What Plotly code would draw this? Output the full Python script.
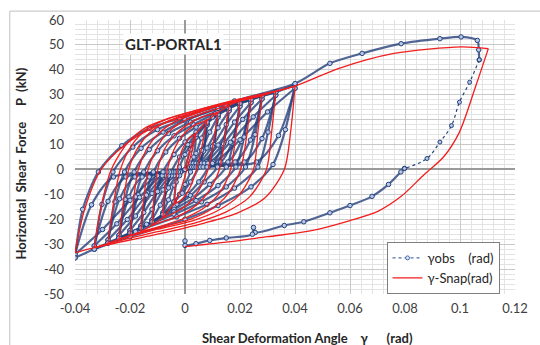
import plotly.graph_objects as go

# ---------------- data ----------------
# Snap model (red): branches of the hysteresis path, (gamma [rad], P [kN])
snap_start = [(0.0, 0.0), (0.002, 8.5), (0.004, 14.5)]
snap_cycles = [
    [(0.004, 14.5), (0.0025, 7), (0.0007, 0), (-0.0012, -7), (-0.0028, -11.5), (-0.004, -14)],
    [(-0.004, -14), (-0.0035, -7), (-0.0028, 0), (-0.001, 8), (0.0015, 12.5), (0.004, 14.5), (0.008, 19.8)],
    [(0.008, 19.8), (0.0063, 10), (0.0042, 0), (0.0015, -8), (-0.0015, -12.5), (-0.004, -14), (-0.008, -19.5)],
    [(-0.008, -19.5), (-0.0074, -9), (-0.0064, 0), (-0.004, 8), (-0.001, 13.5), (0.003, 17.5), (0.008, 19.8), (0.012, 23)],
    [(0.012, 23), (0.0105, 12), (0.0084, 0), (0.005, -8.5), (0.001, -14), (-0.004, -17.5), (-0.008, -19.5), (-0.012, -22.5)],
    [(-0.012, -22.5), (-0.0112, -11), (-0.0099, 0), (-0.0075, 8), (-0.004, 13.5), (0.001, 18), (0.006, 21), (0.012, 23), (0.016, 25.8)],
    [(0.016, 25.8), (0.0145, 13), (0.0125, 0), (0.0085, -9), (0.004, -14.5), (-0.002, -18.5), (-0.012, -22.5), (-0.016, -25)],
    [(-0.016, -25), (-0.015, -12), (-0.0134, 0), (-0.0105, 8), (-0.007, 14), (-0.002, 18.5), (0.005, 22), (0.016, 25.8), (0.02, 27.5)],
    [(0.02, 27.5), (0.0185, 14), (0.0166, 0), (0.0125, -9.5), (0.0075, -15), (0.001, -19), (-0.008, -22.5), (-0.016, -25), (-0.02, -26.6)],
    [(-0.02, -26.6), (-0.0188, -13), (-0.017, 0), (-0.0138, 8.5), (-0.0095, 14.5), (-0.004, 19), (0.004, 22.5), (0.012, 25.5), (0.02, 27.5), (0.024, 28.6)],
    [(0.024, 28.6), (0.0225, 14), (0.0202, 0), (0.0155, -10), (0.0095, -16), (0.002, -20), (-0.01, -23.5), (-0.02, -26.6), (-0.024, -28)],
    [(-0.024, -28), (-0.0225, -14), (-0.0205, 0), (-0.017, 9), (-0.012, 15.5), (-0.006, 19.5), (0.002, 22.5), (0.012, 25.5), (0.024, 28.6), (0.028, 29.6)],
    [(0.028, 29.6), (0.0265, 15), (0.0249, 0), (0.0195, -10.5), (0.012, -16.5), (0.003, -20.5), (-0.01, -24), (-0.024, -28), (-0.028, -29.8)],
    [(-0.028, -29.8), (-0.0262, -15), (-0.0235, 0), (-0.0195, 9.5), (-0.014, 16), (-0.007, 20), (0.002, 23), (0.014, 26.5), (0.028, 29.6), (0.033, 31.4)],
    [(0.033, 31.4), (0.0315, 15), (0.0296, 0), (0.0235, -11), (0.015, -17), (0.005, -21), (-0.01, -25), (-0.028, -29.8), (-0.033, -31.4)],
    [(-0.033, -31.4), (-0.0305, -15), (-0.0268, 0), (-0.021, 10.5), (-0.014, 17), (-0.006, 20.5), (0.005, 24), (0.018, 27.8), (0.033, 31.4), (0.04, 33.5)],
    [(0.04, 33.5), (0.0385, 16), (0.0361, 0), (0.029, -11.5), (0.019, -17.5), (0.007, -21.5), (-0.01, -26), (-0.033, -31.4), (-0.04, -33.5)],
]
snap_final = [(-0.04, -33.5), (-0.0365, -16), (-0.0305, 0), (-0.0217, 10), (-0.013, 16), (-0.004, 20),
              (0.006, 23.5), (0.02, 28), (0.04, 33.5), (0.056, 40.6), (0.076, 46.6), (0.1005, 49.2), (0.1103, 48.5)]
snap_unload = [(0.1103, 48.5), (0.1057, 33.4), (0.0998, 15), (0.094, 5), (0.087, -2), (0.0786, -10.8),
               (0.0703, -16.7), (0.0597, -20.6), (0.045, -24.8), (0.03, -27), (0.015, -29.2), (0.0, -31)]

# Observed (blue)
obs_start = [(0.0, 0.0), (0.002, 8), (0.004, 13)]
obs_cycles = [
    [(0.004, 13), (0.0032, 5), (0.002, -1), (0.0, -6), (-0.002, -10), (-0.004, -13)],
    [(-0.004, -13), (-0.0032, -5), (-0.002, 1), (0.0, 6), (0.002, 10), (0.004, 13), (0.008, 18.5)],
    [(0.008, 18.5), (0.0068, 8), (0.005, 1), (0.002, -5), (-0.001, -9.5), (-0.004, -13), (-0.008, -18)],
    [(-0.008, -17.3), (-0.0068, -7.2), (-0.0052, -3), (-0.0016, -1), (0.002, 2.5), (0.004, 6.5), (0.006, 12.6), (0.008, 17.8)],
    [(0.008, 17.8), (0.0068, 7.4), (0.0052, 3), (0.0016, 1), (-0.002, -2.5), (-0.004, -6.3), (-0.006, -12.2), (-0.008, -17.3)],
    [(-0.008, -18), (-0.0068, -8), (-0.005, -1), (-0.002, 5), (0.001, 10), (0.004, 14), (0.008, 18.5), (0.012, 22)],
    [(0.012, 22), (0.0105, 10), (0.0085, 1), (0.005, -5), (0.001, -10), (-0.003, -14), (-0.008, -18), (-0.012, -21)],
    [(-0.012, -20.2), (-0.0102, -8.4), (-0.0078, -3), (-0.0024, -1), (0.003, 2.5), (0.006, 7.7), (0.009, 15), (0.012, 21.1)],
    [(0.012, 21.1), (0.0102, 8.8), (0.0078, 3), (0.0024, 1), (-0.003, -2.5), (-0.006, -7.4), (-0.009, -14.3), (-0.012, -20.2)],
    [(-0.012, -21), (-0.0105, -9), (-0.008, -1), (-0.004, 6), (0.0, 11), (0.004, 15), (0.008, 19), (0.012, 22), (0.016, 24.5)],
    [(0.016, 24.5), (0.0142, 11), (0.0118, 1), (0.007, -5), (0.002, -10.5), (-0.004, -15), (-0.012, -21), (-0.016, -23.5)],
    [(-0.016, -22.6), (-0.0136, -9.4), (-0.0104, -3), (-0.0032, -1), (0.004, 2.5), (0.008, 8.6), (0.012, 16.7), (0.016, 23.5)],
    [(0.016, 23.5), (0.0136, 9.8), (0.0104, 3), (0.0032, 1), (-0.004, -2.5), (-0.008, -8.2), (-0.012, -16), (-0.016, -22.6)],
    [(-0.016, -23.5), (-0.0142, -10), (-0.0115, -1), (-0.007, 7), (-0.002, 12.5), (0.004, 17), (0.01, 21), (0.016, 24.5), (0.02, 26.5)],
    [(0.02, 26.5), (0.0178, 12), (0.015, 1), (0.009, -6), (0.003, -11.5), (-0.004, -16), (-0.016, -23.5), (-0.02, -25.5)],
    [(-0.02, -24.5), (-0.017, -10.2), (-0.013, -3), (-0.004, -1), (0.005, 2.5), (0.01, 9.3), (0.015, 18), (0.02, 25.4)],
    [(0.02, 25.4), (0.017, 10.6), (0.013, 3), (0.004, 1), (-0.005, -2.5), (-0.01, -8.9), (-0.015, -17.3), (-0.02, -24.5)],
    [(-0.02, -25.5), (-0.018, -11), (-0.015, -1), (-0.01, 7.5), (-0.004, 13.5), (0.003, 18), (0.011, 22.5), (0.02, 26.5), (0.024, 28)],
    [(0.024, 28), (0.0215, 13), (0.0185, 1), (0.012, -6.5), (0.004, -12.5), (-0.004, -17), (-0.014, -22), (-0.02, -25.5), (-0.024, -27.5)],
    [(-0.024, -26.4), (-0.0204, -11), (-0.0156, -3), (-0.0048, -1), (0.006, 2.5), (0.012, 9.8), (0.018, 19), (0.024, 26.9)],
    [(0.024, 26.9), (0.0204, 11.2), (0.0156, 3), (0.0048, 1), (-0.006, -2.5), (-0.012, -9.6), (-0.018, -18.7), (-0.024, -26.4)],
    [(-0.024, -27.5), (-0.0218, -12), (-0.0185, -1), (-0.013, 8), (-0.006, 14.5), (0.002, 19), (0.012, 23.5), (0.024, 28), (0.028, 29.5)],
    [(0.028, 29.5), (0.0255, 14), (0.022, 1), (0.015, -7), (0.006, -13), (-0.004, -18), (-0.016, -23.5), (-0.024, -27.5), (-0.028, -29.5)],
    [(-0.028, -28.3), (-0.0238, -11.8), (-0.0182, -3), (-0.0056, -1), (0.007, 2.5), (0.014, 10.3), (0.021, 20.1), (0.028, 28.3)],
    [(0.028, 28.3), (0.0238, 11.8), (0.0182, 3), (0.0056, 1), (-0.007, -2.5), (-0.014, -10.3), (-0.021, -20.1), (-0.028, -28.3)],
    [(-0.028, -29.5), (-0.0255, -13), (-0.022, -1), (-0.016, 8.5), (-0.008, 15), (0.0, 19.5), (0.012, 24.5), (0.028, 29.5), (0.033, 31)],
    [(0.033, 31), (0.0302, 15), (0.0265, 1), (0.018, -7.5), (0.008, -14), (-0.003, -19), (-0.018, -25), (-0.028, -29.5), (-0.033, -32)],
    [(-0.033, -30.7), (-0.028, -12.8), (-0.0215, -3), (-0.0066, -1), (0.0083, 2.5), (0.0165, 10.9), (0.0248, 21.1), (0.033, 29.8)],
    [(0.033, 29.8), (0.028, 12.4), (0.0215, 3), (0.0066, 1), (-0.0083, -2.5), (-0.0165, -11.2), (-0.0248, -21.8), (-0.033, -30.7)],
    [(-0.033, -32), (-0.0302, -14), (-0.0262, -1), (-0.019, 9), (-0.01, 16), (0.0, 20), (0.015, 25.5), (0.033, 31), (0.04, 34)],
    [(0.04, 34), (0.0365, 16), (0.032, 2), (0.024, -7), (0.012, -14.5), (0.0, -20), (-0.02, -27), (-0.033, -32), (-0.04, -35.5)],
    [(-0.04, -34.1), (-0.034, -14.2), (-0.026, -3), (-0.008, -1), (0.01, 2.5), (0.02, 11.9), (0.03, 23.1), (0.04, 32.6)],
    [(0.04, 32.6), (0.034, 13.6), (0.026, 3), (0.008, 1), (-0.01, -2.5), (-0.02, -12.4), (-0.03, -24.1), (-0.04, -34.1)],
]
obs_final = [(-0.04, -35.5), (-0.0372, -16), (-0.0315, -1), (-0.023, 9.5), (-0.013, 16.5), (-0.002, 20.5),
             (0.018, 27.5), (0.04, 34.5), (0.0527, 42.6), (0.0644, 46.6), (0.0786, 50.5), (0.0927, 52.5),
             (0.1004, 53.2), (0.1063, 51.8), (0.1068, 48), (0.107, 44)]
obs_unload_sparse = [(0.107, 44), (0.1035, 35), (0.0998, 27), (0.0969, 17.6), (0.0927, 11), (0.088, 4.4), (0.0798, 0.4)]
obs_unload = [(0.0798, 0.4), (0.0785, -1), (0.074, -6), (0.068, -10.8), (0.06, -14.5), (0.0527, -17.4),
              (0.0432, -21), (0.0361, -22.5), (0.0255, -25.3), (0.0249, -23.3), (0.0245, -26), (0.015, -27.5),
              (0.009, -28.5), (0.004, -29.8), (0.0, -30.5), (0.0, -28.7)]

x_tickvals = [-0.04, -0.02, 0, 0.02, 0.04, 0.06, 0.08, 0.10, 0.12]
x_ticktext = ["-0.04", "-0.02", "0", "0.02", "0.04", "0.06", "0.08", "0.1", "0.12"]
y_tickvals = [-50, -40, -30, -20, -10, 0, 10, 20, 30, 40, 50, 60]
y_ticktext = ["-50", "-40", "-30", "-20", "-10", "0", "10", "20", "30", "40", "50", "60"]


def join(branches):
    xs, ys = [], []
    for b in branches:
        for px, py in b:
            xs.append(px)
            ys.append(py)
        xs.append(None)
        ys.append(None)
    return xs, ys


FONT = "Lato"
NAVY = "#25407A"
RED = "#F21D1D"

snap_x, snap_y = join([snap_start] + snap_cycles + [snap_final, snap_unload])
obs_x, obs_y = join([obs_start] + obs_cycles + [obs_final, obs_unload])
sp_x, sp_y = join([obs_unload_sparse])

fig = go.Figure()
fig.add_trace(go.Scatter(
    x=obs_x, y=obs_y, mode="lines+markers", showlegend=False,
    line=dict(color="rgba(37,64,122,0.8)", width=2.2, shape="spline", smoothing=0.8),
    marker=dict(symbol="circle", size=4.5, color="#B7C7E6", line=dict(color=NAVY, width=1)),
    connectgaps=False))
fig.add_trace(go.Scatter(
    x=sp_x, y=sp_y, mode="lines+markers", showlegend=False,
    line=dict(color=NAVY, width=1.2, dash="dot", shape="spline"),
    marker=dict(symbol="circle", size=4, color="#B7C7E6", line=dict(color=NAVY, width=1))))
fig.add_trace(go.Scatter(
    x=snap_x, y=snap_y, mode="lines", showlegend=False,
    line=dict(color=RED, width=1.3, shape="spline", smoothing=0.8), connectgaps=False))
# legend entries
fig.add_trace(go.Scatter(
    x=[None], y=[None], mode="lines+markers", name="γobs\u00a0\u00a0\u00a0\u00a0(rad)",
    line=dict(color="#4A6CB0", width=1.3, dash="dot"),
    marker=dict(symbol="circle", size=4, color="#DCE4F4", line=dict(color="#4A6CB0", width=1))))
fig.add_trace(go.Scatter(
    x=[None], y=[None], mode="lines", name="γ-Snap(rad)",
    line=dict(color=RED, width=1.3)))

axis_common = dict(
    showgrid=True, gridcolor="#C9C9C9", gridwidth=1,
    zeroline=True, zerolinecolor="#9A9A9A", zerolinewidth=1.5,
    showline=False, ticks="",
    tickfont=dict(family=FONT, size=13, color="#404040"),
)
fig.update_xaxes(range=[-0.04, 0.12], tickvals=x_tickvals, ticktext=x_ticktext,
                 minor=dict(dtick=0.004, tick0=0, showgrid=True, gridcolor="#E3E3E3", gridwidth=1),
                 ticklabelstandoff=5, **axis_common)
fig.update_yaxes(range=[-50, 60], tickvals=y_tickvals, ticktext=y_ticktext,
                 minor=dict(dtick=2, tick0=0, showgrid=True, gridcolor="#E3E3E3", gridwidth=1),
                 ticklabelstandoff=10, **axis_common)

fig.update_layout(
    width=540, height=345,
    margin=dict(l=75, r=13, t=16, b=51),
    paper_bgcolor="white", plot_bgcolor="white",
    font=dict(family=FONT, size=13, color="#262626"),
    legend=dict(x=0.708, y=0.19, xanchor="left", yanchor="top",
                bgcolor="white", bordercolor="#7F7F7F", borderwidth=1,
                font=dict(family=FONT, size=13, color="#262626"),
                itemwidth=30, tracegroupgap=2),
    annotations=[
        dict(x=-0.0043, y=50.3, xref="x", yref="y", text="<b>GLT-PORTAL1</b>", showarrow=False,
             xanchor="center", yanchor="middle",
             bgcolor="white", font=dict(family=FONT, size=15, color="#262626")),
        dict(x=-0.1217, y=0.478, xref="paper", yref="paper", textangle=-90, showarrow=False,
             xanchor="center", yanchor="middle",
             text="<b>Horizontal\u00a0 Shear\u00a0 Force\u00a0\u00a0\u00a0\u00a0 P\u00a0 (kN)</b>",
             font=dict(family=FONT, size=13, color="#262626")),
        dict(x=0.529, y=-0.162, xref="paper", yref="paper", showarrow=False,
             xanchor="center", yanchor="middle",
             text="<b>Shear Deformation Angle\u00a0\u00a0\u00a0 γ\u00a0\u00a0\u00a0\u00a0\u00a0 (rad)</b>",
             font=dict(family=FONT, size=13, color="#262626")),
    ],
    shapes=[
        dict(type="rect", xref="paper", yref="paper", x0=-0.1482, y0=-0.25, x1=1.06, y1=1.0324,
             line=dict(color="#BFBFBF", width=1), layer="above"),
    ],
)

fig.write_html("out.html")
